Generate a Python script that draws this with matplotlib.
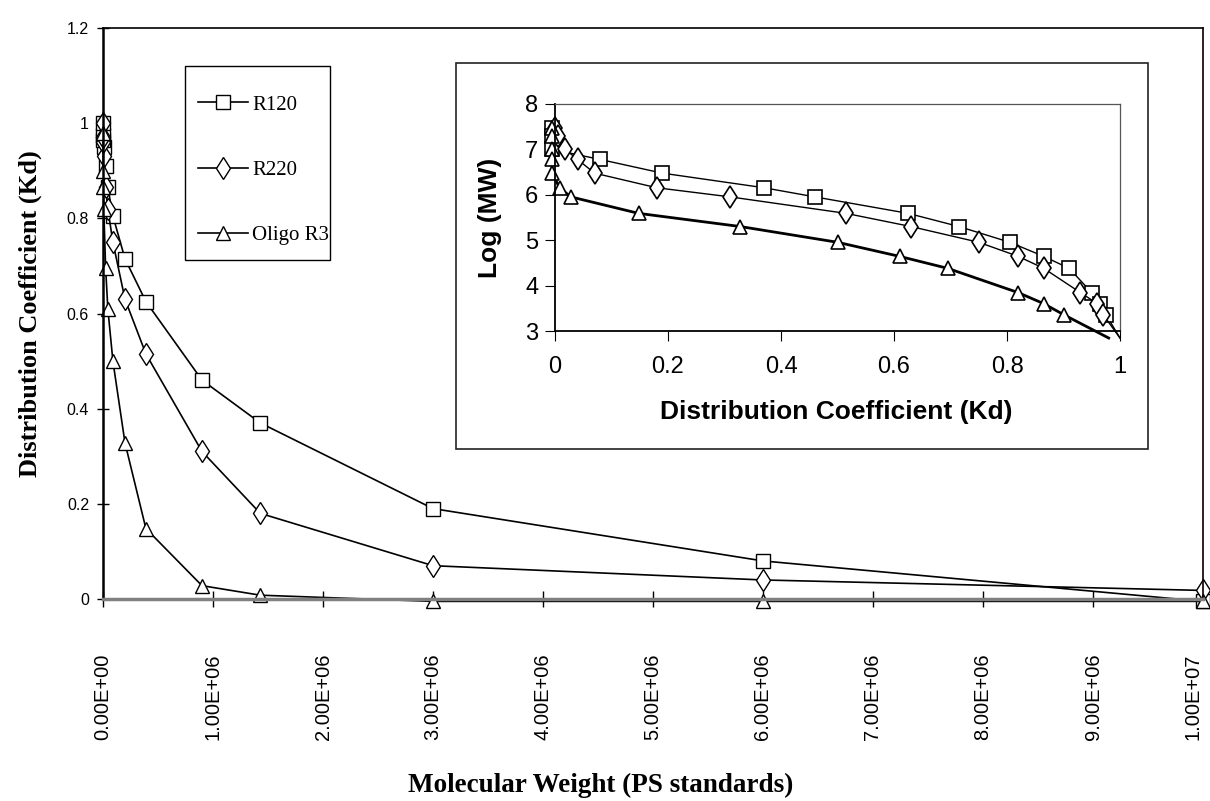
import numpy as np
import matplotlib.pyplot as plt
from matplotlib.patches import Rectangle
from matplotlib.ticker import FuncFormatter

plt.rcParams['font.family'] = 'Liberation Sans'

# PS standards, largest first, and distribution coefficients for each column
mw = np.array([3.0e7, 2.0e7, 1.0e7, 6.0e6, 3.0e6, 1.43e6, 9.0e5, 3.9e5, 2.0e5,
               9.0e4, 4.4e4, 2.4e4, 7.0e3, 4.0e3, 2.3e3, 7.0e2])
kd_r120 = [-0.005, -0.005, -0.005, 0.080, 0.190, 0.370, 0.460, 0.625, 0.715,
           0.805, 0.865, 0.910, 0.950, 0.965, 0.975, 1.000]
kd_r220 = [0.000, 0.005, 0.018, 0.040, 0.070, 0.180, 0.310, 0.515, 0.630,
           0.750, 0.820, 0.865, 0.930, 0.960, 0.970, 1.000]
kd_oligo = [-0.005, -0.005, -0.005, -0.005, -0.005, 0.008, 0.028, 0.148, 0.328,
            0.500, 0.610, 0.695, 0.820, 0.865, 0.900, 0.980]

names = ['R120', 'R220', 'Oligo R3']
series = [kd_r120, kd_r220, kd_oligo]
markers = ['s', 'd', '^']
msizes = [10, 11.5, 10.5]

W, H = 1210, 801
fig = plt.figure(figsize=(W / 100, H / 100), dpi=100)

# ---- main chart: Kd against molecular weight ----
ax = fig.add_axes([103 / W, 1 - 599 / H, 1100 / W, 571 / H])
keep = mw <= 1e7
for kd, m, ms, name in zip(series, markers, msizes, names):
    ax.plot(mw[keep], np.array(kd)[keep], color='black', lw=1.2, marker=m, ms=ms,
            mfc='white', mec='black', mew=1.0, label=name, clip_on=False)

ax.set_xlim(0, 1e7)
ax.set_ylim(0, 1.2)
ax.set_xticks(np.arange(0, 1.01e7, 1e6))
ax.set_yticks(np.arange(0, 1.21, 0.2))
ax.xaxis.set_major_formatter(FuncFormatter(lambda v, p: f"{v:.2E}"))
ax.yaxis.set_major_formatter(FuncFormatter(lambda v, p: f"{v:g}"))
ax.tick_params(axis='x', direction='inout', length=12, width=1, pad=33,
               labelrotation=90, labelsize=14.5)
ax.tick_params(axis='y', direction='inout', length=8, width=1, pad=6, labelsize=11.5)
# keep the last label inside the figure edge
ax.xaxis.get_major_ticks()[-1].label1.set_ha('right')
ax.spines['bottom'].set_color('#808080')
ax.spines['bottom'].set_linewidth(2.5)
ax.spines['left'].set_linewidth(1.8)
ax.spines['top'].set_linewidth(1.2)
ax.spines['right'].set_linewidth(1.2)

ax.set_xlabel('Molecular Weight (PS standards)', family='Liberation Serif',
              weight='bold', size=19.5, va='center')
ax.xaxis.set_label_coords(0.452, -0.326)
ax.set_ylabel('Distribution Coefficient (Kd)', family='Liberation Serif',
              weight='bold', size=19, va='center')
ax.yaxis.set_label_coords(-0.066, 0.5)

# legend entries without their own frame; the box is drawn separately
leg = ax.legend(loc='upper left', bbox_to_anchor=(198 / W, 1 - 95 / H),
                bbox_transform=fig.transFigure, prop={'family': 'Liberation Serif', 'size': 15},
                frameon=False, borderpad=0, labelspacing=2.2, handlelength=2.4,
                handletextpad=0.2, borderaxespad=0)
fig.add_artist(Rectangle((185 / W, 1 - 260 / H), 145 / W, 194 / H, transform=fig.transFigure,
                         fill=False, edgecolor='black', lw=1.0, zorder=0.5))

# ---- inset: log MW against Kd ----
fig.add_artist(Rectangle((456 / W, 1 - 449 / H), 692 / W, 386 / H, transform=fig.transFigure,
                         facecolor='white', edgecolor='#222222', lw=1.2, zorder=0.5))

axi = fig.add_axes([555 / W, 1 - 331 / H, 565 / W, 227 / H])
axi.set_zorder(1)
logmw = np.log10(mw)
for kd, m, ms, lw in zip(series, markers, msizes, [1.0, 1.0, 2.0]):
    axi.plot(kd, logmw, color='black', lw=lw, marker=m, ms=ms, mfc='white',
             mec='black', mew=1.2, markevery=slice(0, len(mw) - 1), clip_on=False)

axi.set_xlim(0, 1)
axi.set_ylim(3, 8)
axi.set_xticks(np.arange(0, 1.01, 0.2))
axi.set_yticks(np.arange(3, 8.1, 1))
axi.xaxis.set_major_formatter(FuncFormatter(lambda v, p: f"{v:g}"))
axi.tick_params(axis='x', direction='out', length=7, pad=11, labelsize=17)
axi.tick_params(axis='y', direction='out', length=7, pad=5, labelsize=17)
for side in ['top', 'right']:
    axi.spines[side].set_color('#555555')
    axi.spines[side].set_linewidth(0.9)
for side in ['left', 'bottom']:
    axi.spines[side].set_linewidth(1.3)

axi.set_xlabel('Distribution Coefficient (Kd)', weight='bold', size=19, va='center')
axi.xaxis.set_label_coords(0.497, -0.357)
axi.set_ylabel('Log (MW)', weight='bold', size=19, va='center')
axi.yaxis.set_label_coords(-0.115, 0.498)

fig.savefig('out.png', dpi=100)
